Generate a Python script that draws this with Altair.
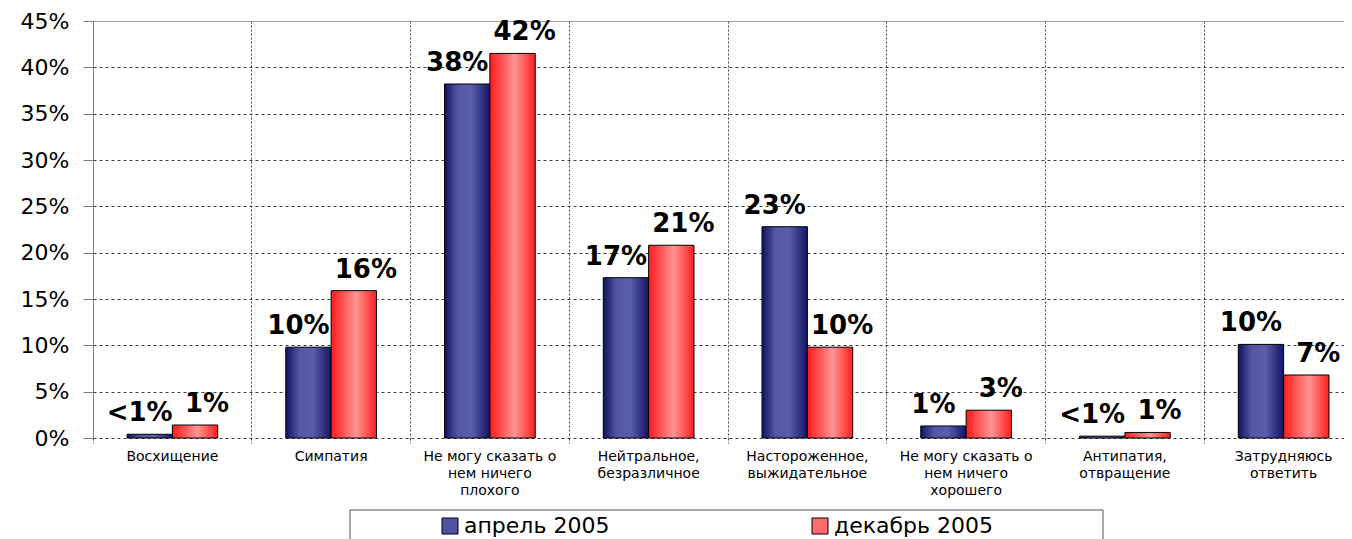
import altair as alt
import pandas as pd

categories = [
    "Восхищение",
    "Симпатия",
    "Не могу сказать о\nнем ничего\nплохого",
    "Нейтральное,\nбезразличное",
    "Настороженное,\nвыжидательное",
    "Не могу сказать о\nнем ничего\nхорошего",
    "Антипатия,\nотвращение",
    "Затрудняюсь\nответить",
]
series = ["апрель 2005", "декабрь 2005"]
april = [0.4, 9.8, 38.2, 17.3, 22.8, 1.3, 0.2, 10.1]
december = [1.4, 15.9, 41.5, 20.8, 9.8, 3.0, 0.6, 6.8]
april_labels = ["<1%", "10%", "38%", "17%", "23%", "1%", "<1%", "10%"]
december_labels = ["1%", "16%", "42%", "21%", "10%", "3%", "1%", "7%"]
y_ticks = [0, 5, 10, 15, 20, 25, 30, 35, 40, 45]

rows = []
for i, c in enumerate(categories):
    rows.append({"cat": c, "series": series[0], "value": april[i], "label": april_labels[i]})
    rows.append({"cat": c, "series": series[1], "value": december[i], "label": december_labels[i]})
df = pd.DataFrame(rows)

FONT = "DejaVu Sans"

grad_blue = {
    "gradient": "linear", "x1": 0, "x2": 1, "y1": 0, "y2": 0,
    "stops": [
        {"offset": 0, "color": "#121262"},
        {"offset": 0.3, "color": "#5656a6"},
        {"offset": 0.6, "color": "#5c5cac"},
        {"offset": 1, "color": "#141466"},
    ],
}
grad_red = {
    "gradient": "linear", "x1": 0, "x2": 1, "y1": 0, "y2": 0,
    "stops": [
        {"offset": 0, "color": "#ff1a1a"},
        {"offset": 0.55, "color": "#ff9494"},
        {"offset": 1, "color": "#ff1e1e"},
    ],
}

x_enc = alt.X(
    "cat:N",
    sort=categories,
    scale=alt.Scale(domain=categories, range=[0, 1270], paddingInner=0, paddingOuter=0),
    axis=alt.Axis(
        title=None,
        labelExpr="split(datum.label, '\\n')",
        labelAngle=0,
        labelFont=FONT,
        labelFontSize=14,
        labelLineHeight=17,
        labelColor="black",
        labelPadding=6,
        labelOverlap=False,
        labelLimit=300,
        bandPosition=0,
        domain=False,
        grid=True,
        gridDash=[2, 2],
        gridColor="#404040",
        ticks=True,
        tickSize=5,
        tickDash=[2, 2],
        tickColor="#404040",
    ),
)
xoff = alt.XOffset("series:N", sort=series, scale=alt.Scale(domain=series, paddingInner=0, paddingOuter=0.75))
y_enc = alt.Y(
    "value:Q",
    scale=alt.Scale(domain=[0, 45], nice=False),
    axis=alt.Axis(
        title=None,
        values=y_ticks,
        labelExpr="datum.value + '%'",
        labelFont=FONT,
        labelFontSize=22,
        labelColor="black",
        labelPadding=14,
        tickSize=10,
        tickColor="#808080",
        domainColor="#808080",
        grid=True,
        gridDash={"condition": {"test": "datum.value === 45", "value": []}, "value": [3, 3]},
        gridColor={"condition": {"test": "datum.value === 45", "value": "#a0a0a0"}, "value": "#404040"},
    ),
)

bars = alt.Chart(df).mark_bar(stroke="black", strokeWidth=1).encode(
    x=x_enc,
    xOffset=xoff,
    y=y_enc,
    fill=alt.value(grad_red, condition={"test": "datum.series === 'апрель 2005'", "value": grad_blue}),
)

text_style = dict(font=FONT, fontSize=26, fontWeight="bold", color="black", baseline="alphabetic", dy=-13)
text_a = alt.Chart(df).transform_filter("datum.series === 'апрель 2005'").mark_text(dx=-10, **text_style).encode(
    x=x_enc, xOffset=xoff, y=y_enc, text="label:N"
)
text_d = alt.Chart(df).transform_filter("datum.series === 'декабрь 2005'").mark_text(dx=12, **text_style).encode(
    x=x_enc, xOffset=xoff, y=y_enc, text="label:N"
)

# legend frame (decoration)
frame = alt.Chart(pd.DataFrame({"f": [0]})).mark_rect(
    fill="white", stroke="#505050", strokeWidth=1
).encode(
    x=alt.value(257), x2=alt.value(1010), y=alt.value(489), y2=alt.value(560)
)

legend_layer = alt.Chart(df).transform_filter("false").mark_square(size=256, stroke="black", strokeWidth=1, opacity=1).encode(
    x=x_enc,
    y=y_enc,
    color=alt.Color(
        "series:N",
        scale=alt.Scale(domain=series, range=["#5252a4", "#ff6a6a"]),
        legend=alt.Legend(
            orient="none",
            legendX=346,
            legendY=494,
            direction="horizontal",
            title=None,
            labelFont=FONT,
            labelFontSize=22,
            labelColor="black",
            labelOffset=3,
            labelLimit=400,
            symbolType="square",
            symbolSize=256,
            symbolStrokeColor="black",
            symbolStrokeWidth=1,
            columnPadding=199,
            padding=0,
        ),
    ),
)

chart = alt.layer(frame, bars, text_a, text_d, legend_layer).properties(
    width=1251,
    height=417,
    autosize=alt.AutoSizeParams(type="none"),
    padding={"left": 85, "top": 13, "right": 0, "bottom": 101},
    background="white",
).configure_view(stroke="transparent")

chart.save("out.html", embed_options={"renderer": "svg", "actions": False})
